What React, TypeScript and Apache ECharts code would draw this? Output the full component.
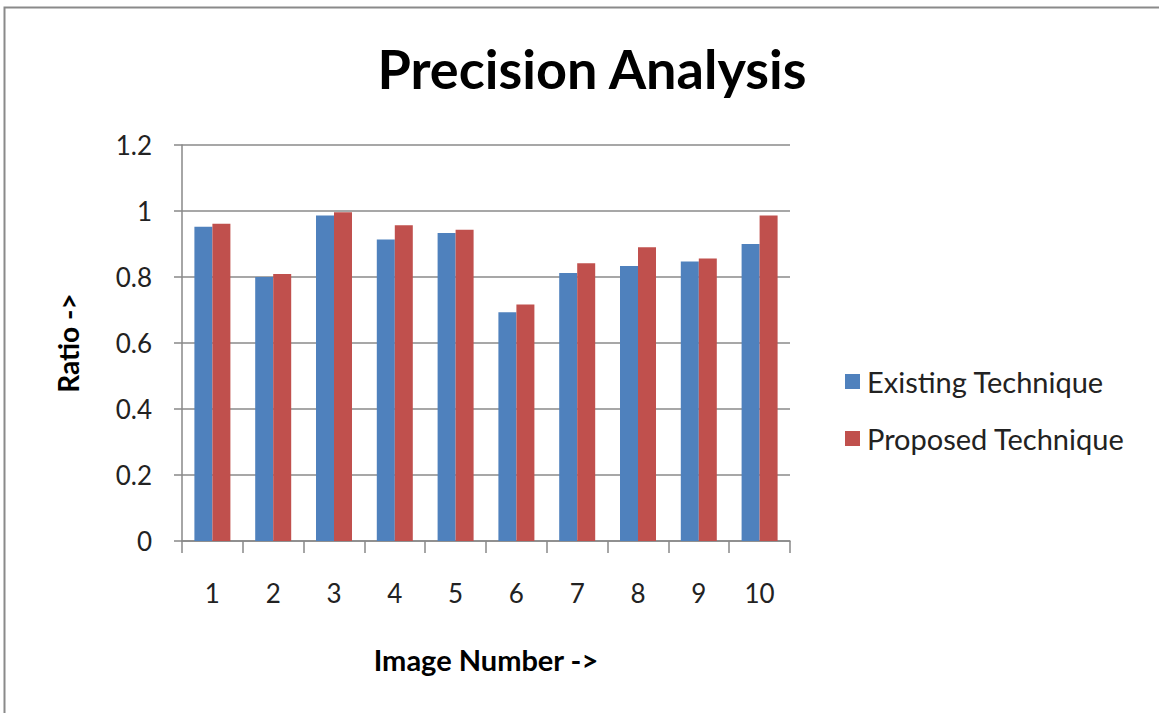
import React, { useEffect, useRef } from "react";
import * as echarts from "echarts";

const categories = ["1", "2", "3", "4", "5", "6", "7", "8", "9", "10"];
const existingTechnique = [0.952, 0.8, 0.986, 0.914, 0.933, 0.693, 0.812, 0.833, 0.847, 0.9];
const proposedTechnique = [0.961, 0.809, 0.996, 0.957, 0.943, 0.717, 0.842, 0.89, 0.856, 0.986];
const yTicks = { min: 0, max: 1.2, interval: 0.2 };

const FONT = "Lato, 'Open Sans', sans-serif";

export default function App() {
  const ref = useRef<HTMLDivElement>(null);
  useEffect(() => {
    document.body.style.margin = "0";
    if (!ref.current) return;
    const chart = echarts.init(ref.current, undefined, { renderer: "svg" });
    chart.setOption({
      animation: false,
      backgroundColor: "#ffffff",
      title: {
        text: "Precision Analysis",
        left: 587,
        top: 36,
        textAlign: "center",
        textStyle: { fontFamily: FONT, fontSize: 54, fontWeight: "bold", color: "#000" },
      },
      graphic: [
        {
          type: "rect",
          shape: { x: 4.5, y: 7.5, width: 1200, height: 800 },
          style: { fill: "none", stroke: "#8a8a8a", lineWidth: 2 },
          silent: true,
        },
      ],
      legend: {
        orient: "vertical",
        left: 840,
        top: 362,
        itemWidth: 15,
        itemHeight: 15,
        itemGap: 28,
        icon: "rect",
        textStyle: { fontFamily: FONT, fontSize: 29, color: "#222", padding: [0, 0, 0, 2] },
        data: ["Existing Technique", "Proposed Technique"],
      },
      grid: { left: 182, right: 369, top: 145, bottom: 172, containLabel: false },
      xAxis: {
        type: "category",
        data: categories,
        name: "Image Number ->",
        nameLocation: "middle",
        nameGap: 104,
        nameTextStyle: { fontFamily: FONT, fontSize: 29, fontWeight: "bold", color: "#000" },
        axisLine: { lineStyle: { color: "#888", width: 1.5 } },
        axisTick: { show: true, length: 12, lineStyle: { color: "#888", width: 1.5 } },
        axisLabel: { margin: 39, fontFamily: FONT, fontSize: 26, color: "#222" },
      },
      yAxis: {
        type: "value",
        min: yTicks.min,
        max: yTicks.max,
        interval: yTicks.interval,
        name: "Ratio ->",
        nameLocation: "middle",
        nameGap: 100,
        nameRotate: 90,
        nameTextStyle: { fontFamily: FONT, fontSize: 28, fontWeight: "bold", color: "#000" },
        axisLine: { show: true, lineStyle: { color: "#888", width: 1.5 } },
        axisTick: { show: true, length: 8, lineStyle: { color: "#888", width: 1.5 } },
        axisLabel: {
          margin: 30,
          fontFamily: FONT,
          fontSize: 26,
          color: "#222",
          formatter: (v: number) => String(Math.round(v * 10) / 10),
        },
        splitLine: { lineStyle: { color: "#8a8a8a", width: 1.5 } },
      },
      series: [
        {
          name: "Existing Technique",
          type: "bar",
          data: existingTechnique,
          barWidth: 18,
          barGap: "0%",
          itemStyle: { color: "#4F81BD" },
        },
        {
          name: "Proposed Technique",
          type: "bar",
          data: proposedTechnique,
          barWidth: 18,
          barGap: "0%",
          itemStyle: { color: "#C0504D" },
        },
      ],
    });
    return () => chart.dispose();
  }, []);
  return <div ref={ref} style={{ position: "fixed", left: 0, top: 0, width: 1159, height: 713 }} />;
}
